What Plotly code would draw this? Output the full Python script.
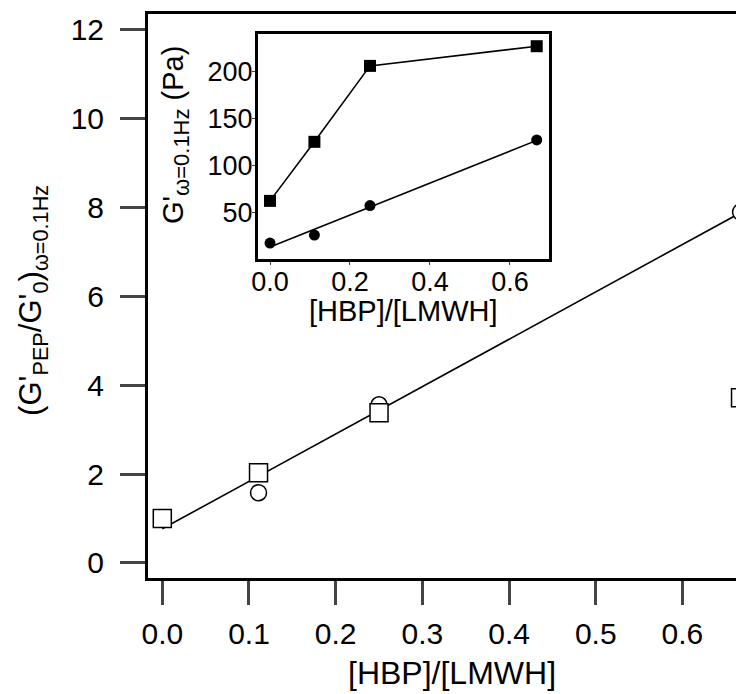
import numpy as np
import plotly.graph_objects as go

# ---- data ----
ratio = [0.0, 0.111, 0.25, 0.667]
norm_circles = [1.0, 1.58, 3.56, 7.9]
norm_squares = [1.0, 2.03, 3.38, 3.72]

inset_squares = [62, 125, 206, 227]
inset_circles = [17, 25.5, 57, 127]

main_xticks = [0.0, 0.1, 0.2, 0.3, 0.4, 0.5, 0.6]
main_yticks = [0, 2, 4, 6, 8, 10, 12]
inset_xticks = [0.0, 0.2, 0.4, 0.6]
inset_yticks = [50, 100, 150, 200]

FONT = "Liberation Sans, Arial, sans-serif"

# linear fits
p_main = np.polyfit(ratio, norm_circles, 1)
p_in = np.polyfit(ratio, inset_circles, 1)
fit_x = [ratio[0], ratio[-1]]

fig = go.Figure()

# main fit line
fig.add_trace(go.Scatter(x=fit_x, y=list(np.polyval(p_main, fit_x)), mode="lines",
                         line=dict(color="black", width=1.6), showlegend=False,
                         xaxis="x", yaxis="y"))
fig.add_trace(go.Scatter(x=ratio, y=norm_circles, mode="markers",
                         marker=dict(symbol="circle", size=16, color="white",
                                     line=dict(color="black", width=1.5)),
                         showlegend=False, xaxis="x", yaxis="y"))
fig.add_trace(go.Scatter(x=ratio, y=norm_squares, mode="markers",
                         marker=dict(symbol="square", size=18, color="white",
                                     line=dict(color="black", width=1.5)),
                         showlegend=False, xaxis="x", yaxis="y"))

# inset
fig.add_trace(go.Scatter(x=ratio, y=inset_squares, mode="lines+markers",
                         line=dict(color="black", width=1.6),
                         marker=dict(symbol="square", size=12, color="black"),
                         showlegend=False, xaxis="x2", yaxis="y2", cliponaxis=False))
fig.add_trace(go.Scatter(x=fit_x, y=list(np.polyval(p_in, fit_x)), mode="lines",
                         line=dict(color="black", width=1.6), showlegend=False,
                         xaxis="x2", yaxis="y2"))
fig.add_trace(go.Scatter(x=ratio, y=inset_circles, mode="markers",
                         marker=dict(symbol="circle", size=11, color="black"),
                         showlegend=False, xaxis="x2", yaxis="y2", cliponaxis=False))

fig.update_layout(
    width=736, height=686,
    margin=dict(l=140, r=0, t=6, b=116),
    paper_bgcolor="white", plot_bgcolor="white",
    font=dict(family=FONT, color="black", size=30),
    xaxis=dict(domain=[0, 1], range=[-0.0165, 0.671], tickvals=main_xticks,
               tickformat=".1f", ticks="outside", ticklen=24, tickwidth=3,
               showline=True, linewidth=3, linecolor="black", mirror=True,
               showgrid=False, zeroline=False, ticklabelstandoff=3,
               tickfont=dict(size=30)),
    yaxis=dict(domain=[0, 1], range=[-0.34, 12.36], tickvals=main_yticks,
               ticks="outside", ticklen=25, tickwidth=3,
               showline=True, linewidth=3, linecolor="black", mirror=False,
               showgrid=False, zeroline=False, ticklabelstandoff=10,
               tickfont=dict(size=30)),
    xaxis2=dict(domain=[0.1846, 0.673], anchor="y2", range=[-0.03, 0.698],
                tickvals=inset_xticks, tickformat=".1f", ticks="outside",
                ticklen=3, tickwidth=1, showline=True, linewidth=3,
                linecolor="black", mirror=True, showgrid=False, zeroline=False,
                ticklabelstandoff=-6, tickfont=dict(size=27)),
    yaxis2=dict(domain=[0.5656, 0.9645], anchor="x2", range=[0, 240],
                tickvals=inset_yticks, ticks="outside", ticklen=3, tickwidth=1,
                showline=True, linewidth=3, linecolor="black", mirror=True,
                showgrid=False, zeroline=False, ticklabelstandoff=-6,
                tickfont=dict(size=27)),
    annotations=[
        dict(text="[HBP]/[LMWH]", xref="paper", yref="paper", x=0.51, y=-0.168,
             showarrow=False, font=dict(size=32), xanchor="center", yanchor="middle"),
        dict(text="(G'<sub>PEP</sub>/G'<sub>0</sub>)<sub>ω=0.1Hz</sub>",
             xref="paper", yref="paper", x=-0.193, y=0.493, textangle=-90,
             showarrow=False, font=dict(size=31), xanchor="center", yanchor="middle"),
        dict(text="[HBP]/[LMWH]", xref="paper", yref="paper", x=0.428, y=0.474,
             showarrow=False, font=dict(size=29), xanchor="center", yanchor="middle"),
        dict(text="G'<sub><span style='font-size:22px'>ω=0.1Hz</span></sub> (Pa)",
             xref="paper", yref="paper",
             x=0.045, y=0.785, textangle=-90, showarrow=False, font=dict(size=29),
             xanchor="center", yanchor="middle"),
    ],
)

fig.write_html("out.html")
